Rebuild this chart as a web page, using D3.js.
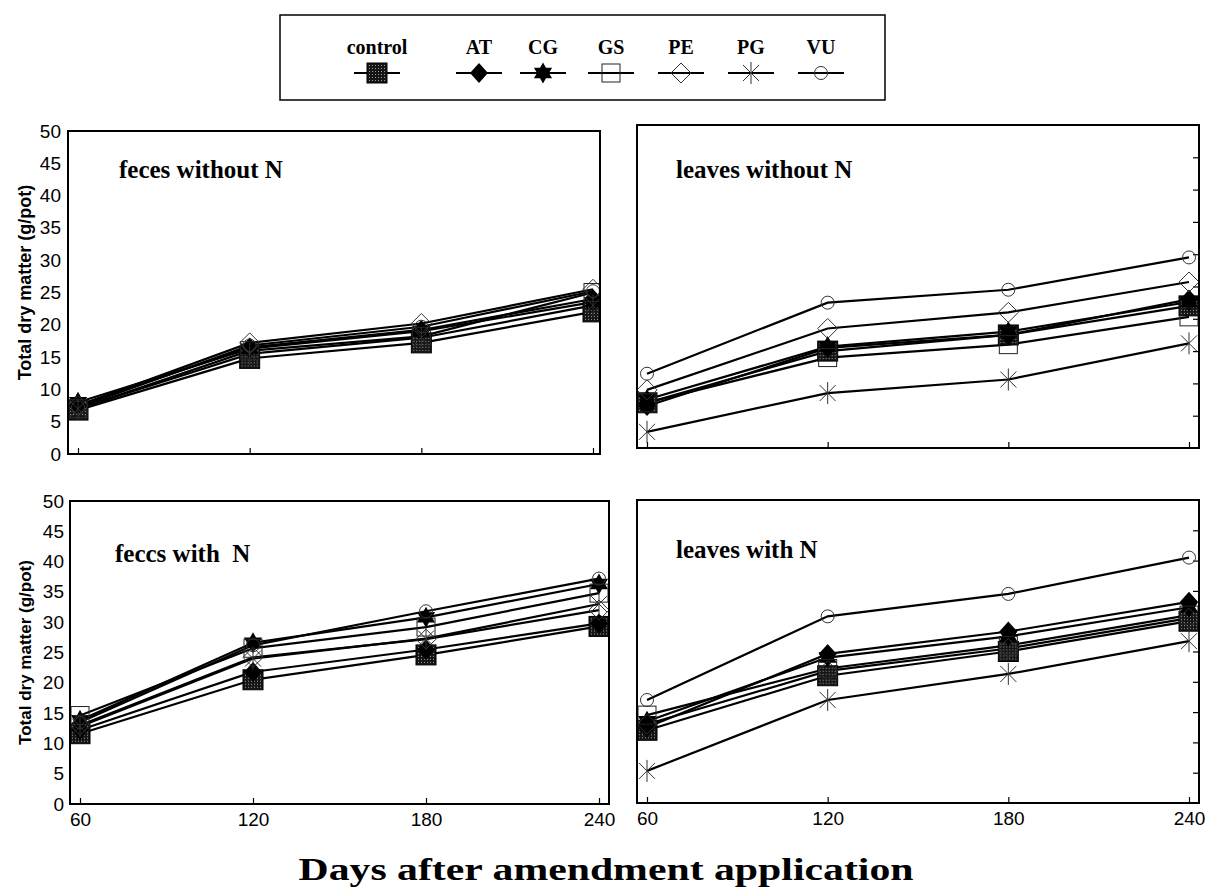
<!DOCTYPE html>
<html>
<head>
<meta charset="utf-8">
<script src="https://cdn.jsdelivr.net/npm/d3@7"></script>
<style>
  body { margin: 0; background: #fff; }
  svg { display: block; }
  .ax text { font-family: "Liberation Sans", Arial, sans-serif; font-size: 19px; fill: #000; }
  .ax path { display: none; }
  .ax line { stroke: #000; stroke-width: 1.2; }
</style>
</head>
<body>
<div class="chart"></div>
<script>
// days after application (x categories)
var days = [60, 120, 180, 240];
var series = ["control", "AT", "CG", "GS", "PE", "PG", "VU"];
var yTicks = [0, 5, 10, 15, 20, 25, 30, 35, 40, 45, 50];

// total dry matter (g/pot), one row per series in the order above
var fecesWithoutN = [
    [6.8, 14.8, 17.2, 22.0],
    [7.5, 16.5, 19.2, 24.0],
    [8.0, 16.3, 19.0, 23.5],
    [7.0, 16.0, 18.2, 25.0],
    [7.5, 17.2, 20.2, 25.5],
    [7.0, 15.5, 18.0, 23.0],
    [7.2, 16.8, 19.7, 25.2]
];
var leavesWithoutN = [
    [7.0, 15.0, 17.5, 22.0],
    [6.5, 15.5, 17.5, 23.0],
    [7.5, 15.7, 18.0, 22.6],
    [7.0, 14.0, 16.0, 20.3],
    [9.0, 18.5, 21.0, 25.7],
    [2.5, 8.5, 10.6, 16.2],
    [11.5, 22.5, 24.5, 29.5]
];
var fecesWithN = [
    [11.6, 20.5, 24.6, 29.3],
    [12.2, 21.8, 25.5, 29.8],
    [13.8, 26.6, 30.8, 36.3],
    [14.6, 25.7, 29.2, 34.8],
    [13.0, 24.2, 27.2, 32.0],
    [12.8, 24.0, 27.3, 33.0],
    [13.5, 26.2, 31.8, 37.2]
];
var leavesWithN = [
    [12.0, 21.0, 25.0, 30.0],
    [12.5, 24.6, 28.3, 33.2],
    [13.5, 24.0, 27.5, 32.3],
    [14.5, 22.2, 26.0, 31.0],
    [13.0, 21.8, 25.5, 30.5],
    [5.3, 17.0, 21.3, 26.7],
    [17.0, 30.8, 34.5, 40.5]
];

var svg = d3.select(".chart").append("svg")
    .attr("width", 1208)
    .attr("height", 891);

var defs = svg.append("defs");
var pat = defs.append("pattern")
    .attr("id", "dots")
    .attr("patternUnits", "userSpaceOnUse")
    .attr("width", 3)
    .attr("height", 3);
pat.append("rect").attr("width", 3).attr("height", 3).attr("fill", "#151515");
pat.append("rect").attr("x", 1).attr("y", 1).attr("width", 1).attr("height", 1).attr("fill", "#9a9a9a");

var starPath = function(ro, ri, n) {
    var pts = [];
    for (var i = 0; i < n * 2; ++i) {
        var r = i % 2 == 0 ? ro : ri;
        var a = Math.PI * i / n - Math.PI / 2;
        pts.push([r * Math.cos(a), r * Math.sin(a)]);
    }
    return "M" + pts.map(function(p) { return p[0].toFixed(2) + "," + p[1].toFixed(2); }).join("L") + "Z";
};

// draw one marker of a series centred on (0,0) of g
var drawMarker = function(g, name) {
    if (name == "control") {
        g.append("rect").attr("x", -10).attr("y", -10).attr("width", 20).attr("height", 20)
            .attr("fill", "url(#dots)").attr("stroke", "#000").attr("stroke-width", 1);
    } else if (name == "AT") {
        g.append("path").attr("d", "M0,-10L9,0L0,10L-9,0Z").attr("fill", "#000");
    } else if (name == "CG") {
        g.append("path").attr("d", starPath(10.5, 6, 6)).attr("fill", "#000");
    } else if (name == "GS") {
        g.append("rect").attr("x", -9).attr("y", -9).attr("width", 18).attr("height", 18)
            .attr("fill", "none").attr("stroke", "#222").attr("stroke-width", 1);
    } else if (name == "PE") {
        g.append("path").attr("d", "M0,-10L10,0L0,10L-10,0Z")
            .attr("fill", "none").attr("stroke", "#333").attr("stroke-width", 1);
    } else if (name == "PG") {
        g.append("path").attr("d", "M0,-11L0,11M-8,-8L8,8M-8,8L8,-8")
            .attr("fill", "none").attr("stroke", "#333").attr("stroke-width", 1);
    } else if (name == "VU") {
        g.append("circle").attr("r", 6.5)
            .attr("fill", "none").attr("stroke", "#333").attr("stroke-width", 1);
    }
};

var panels = [
    { id: "p1", data: fecesWithoutN, title: "feces without N", tx: 119, ty: 178,
      x0: 68, x1: 600, y0: 131, y1: 454, xa: 78, xb: 593, left: true, bottom: false },
    { id: "p2", data: leavesWithoutN, title: "leaves without N", tx: 676, ty: 178,
      x0: 637, x1: 1199, y0: 125, y1: 448, xa: 647, xb: 1189, left: false, bottom: false },
    { id: "p3", data: fecesWithN, title: "feccs with  N", tx: 115, ty: 562,
      x0: 70, x1: 609, y0: 501, y1: 804, xa: 80, xb: 599, left: true, bottom: true },
    { id: "p4", data: leavesWithN, title: "leaves with N", tx: 676, ty: 558,
      x0: 637, x1: 1199, y0: 500, y1: 803, xa: 647, xb: 1189, left: false, bottom: true }
];

panels.forEach(function(p) {
    var x = d3.scaleLinear().domain([60, 240]).range([p.xa, p.xb]);
    var y = d3.scaleLinear().domain([0, 50]).range([p.y1, p.y0]);

    defs.append("clipPath").attr("id", "clip-" + p.id)
        .append("rect")
        .attr("x", p.x0).attr("y", p.y0)
        .attr("width", p.x1 - p.x0).attr("height", p.y1 - p.y0);

    var g = svg.append("g").attr("id", p.id);

    // x ticks point inwards
    g.append("g").attr("class", "ax")
        .attr("transform", "translate(0," + p.y1 + ")")
        .call(d3.axisBottom(x).tickValues(days).tickSize(-6).tickPadding(9)
            .tickFormat(p.bottom ? d3.format("d") : function() { return ""; }));

    if (p.left) {
        g.append("g").attr("class", "ax")
            .attr("transform", "translate(" + p.x0 + ",0)")
            .call(d3.axisLeft(y).tickValues(yTicks).tickSize(0).tickPadding(p.bottom ? 6 : 7));
    } else {
        g.append("g").attr("class", "ax")
            .attr("transform", "translate(" + p.x1 + ",0)")
            .call(d3.axisRight(y).tickValues(yTicks.slice(1, -1)).tickSize(-6)
                .tickFormat(function() { return ""; }));
    }

    var plot = g.append("g").attr("clip-path", "url(#clip-" + p.id + ")");
    var line = d3.line()
        .x(function(d, i) { return x(days[i]); })
        .y(function(d) { return y(d); });

    p.data.forEach(function(vals) {
        plot.append("path")
            .attr("d", line(vals))
            .attr("fill", "none")
            .attr("stroke", "#000")
            .attr("stroke-width", 2.2);
    });

    p.data.forEach(function(vals, s) {
        vals.forEach(function(v, i) {
            var m = plot.append("g").attr("transform", "translate(" + x(days[i]) + "," + y(v) + ")");
            drawMarker(m, series[s]);
        });
    });

    g.append("rect")
        .attr("x", p.x0).attr("y", p.y0)
        .attr("width", p.x1 - p.x0).attr("height", p.y1 - p.y0)
        .attr("fill", "none").attr("stroke", "#000").attr("stroke-width", 2);

    g.append("text")
        .attr("x", p.tx).attr("y", p.ty)
        .attr("font-family", "'Liberation Serif', 'Times New Roman', serif")
        .attr("font-weight", "bold")
        .attr("font-size", 25)
        .attr("xml:space", "preserve")
        .style("white-space", "pre")
        .text(p.title);

    if (p.left) {
        var cy = (p.y0 + p.y1) / 2 + (p.bottom ? 0 : -10);
        g.append("text")
            .attr("transform", "translate(25," + cy + ") rotate(-90)")
            .attr("text-anchor", "middle")
            .attr("dy", "0.35em")
            .attr("font-family", "'Liberation Sans', Arial, sans-serif")
            .attr("font-weight", "bold")
            .attr("font-size", p.bottom ? 17 : 18)
            .text("Total dry matter (g/pot)");
    }
});

// legend
var lgX = [377, 479, 543, 611, 681, 751, 821];
var legend = svg.append("g").attr("class", "legend");
legend.append("rect")
    .attr("x", 280).attr("y", 15).attr("width", 605).attr("height", 85)
    .attr("fill", "none").attr("stroke", "#000").attr("stroke-width", 1.5);

series.forEach(function(name, i) {
    var it = legend.append("g").attr("transform", "translate(" + lgX[i] + ",0)");
    it.append("text")
        .attr("y", 54)
        .attr("text-anchor", "middle")
        .attr("font-family", "'Liberation Serif', 'Times New Roman', serif")
        .attr("font-weight", "bold")
        .attr("font-size", 20)
        .text(name);
    it.append("line")
        .attr("x1", -23).attr("x2", 23).attr("y1", 73).attr("y2", 73)
        .attr("stroke", "#000").attr("stroke-width", 2.2);
    var m = it.append("g").attr("transform", "translate(0,73)");
    drawMarker(m, name);
});

svg.append("text")
    .attr("x", 606).attr("y", 880)
    .attr("text-anchor", "middle")
    .attr("font-family", "'Liberation Serif', 'Times New Roman', serif")
    .attr("font-weight", "bold")
    .attr("font-size", 32)
    .attr("textLength", 615)
    .attr("lengthAdjust", "spacingAndGlyphs")
    .text("Days after amendment application");
</script>
</body>
</html>
